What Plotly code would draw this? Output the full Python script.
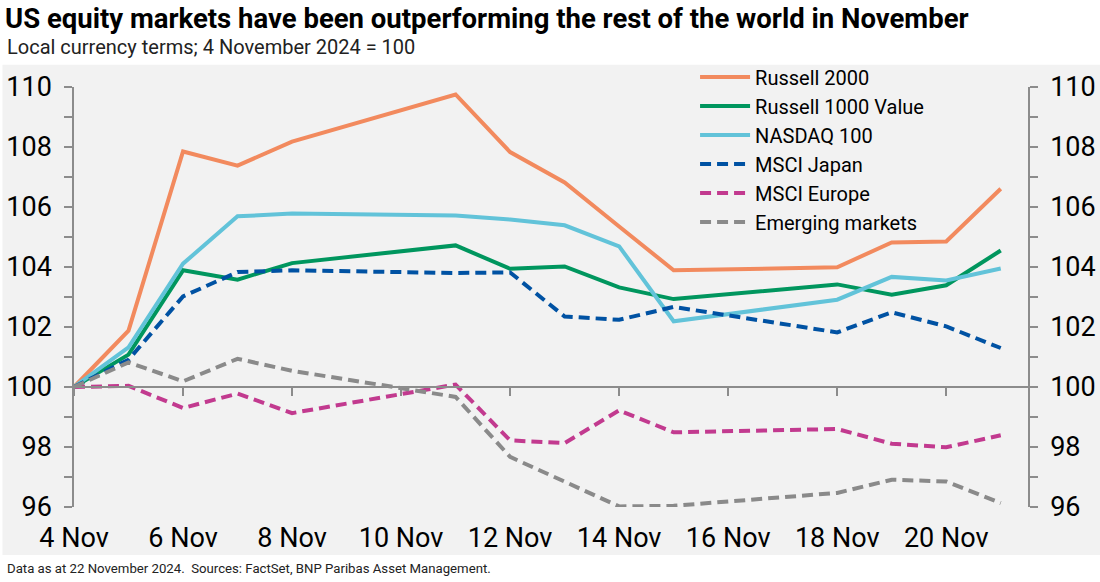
import plotly.graph_objects as go

dates = ["2024-11-04", "2024-11-05", "2024-11-06", "2024-11-07", "2024-11-08",
         "2024-11-11", "2024-11-12", "2024-11-13", "2024-11-14", "2024-11-15",
         "2024-11-18", "2024-11-19", "2024-11-20", "2024-11-21"]

russell_2000 = [100, 101.88, 107.85, 107.38, 108.18, 109.75, 107.83, 106.82, 105.35, 103.89,
                103.99, 104.82, 104.85, 106.61]
russell_1000_value = [100, 101.08, 103.89, 103.58, 104.13, 104.72, 103.94, 104.02, 103.32, 102.93,
                      103.42, 103.08, 103.39, 104.55]
nasdaq_100 = [100, 101.32, 104.11, 105.69, 105.78, 105.72, 105.58, 105.39, 104.69, 102.19,
              102.91, 103.67, 103.55, 103.95]
msci_japan = [100, 100.91, 103.02, 103.83, 103.89, 103.80, 103.82, 102.35, 102.24, 102.67,
              101.82, 102.49, 102.02, 101.30]
msci_europe = [100, 100.04, 99.30, 99.78, 99.13, 100.08, 98.22, 98.13, 99.22, 98.49,
               98.60, 98.11, 97.99, 98.39]
emerging_markets = [100, 100.82, 100.19, 100.94, 100.54, 99.67, 97.67, 96.85, 96.02, 96.04,
                    96.47, 96.91, 96.85, 96.13]

series = [
    ("Russell 2000", russell_2000, "#F28A5E", "solid"),
    ("Russell 1000 Value", russell_1000_value, "#00965E", "solid"),
    ("NASDAQ 100", nasdaq_100, "#62C3D9", "solid"),
    ("MSCI Japan", msci_japan, "#0052A3", "11px,6px"),
    ("MSCI Europe", msci_europe, "#C23A8F", "11px,6px"),
    ("Emerging markets", emerging_markets, "#8A8A8A", "11px,6px"),
]

FONT = "Roboto, sans-serif"
AXIS_GREY = "#8C8C8C"

fig = go.Figure()
for name, vals, color, dash in series:
    fig.add_trace(go.Scatter(x=dates, y=vals, name=name, mode="lines",
                             line=dict(color=color, width=4, dash=dash)))

# empty trace so the secondary axes (right y axis, x axis line at 100) are drawn
fig.add_trace(go.Scatter(x=[], y=[], xaxis="x2", yaxis="y2", showlegend=False,
                         hoverinfo="skip"))

tick_style = dict(ticks="outside", ticklen=8, tickcolor=AXIS_GREY, tickwidth=1.5)

fig.update_layout(
    width=1100, height=582,
    margin=dict(l=74, r=72, t=87, b=75, autoexpand=False),
    paper_bgcolor="white",
    plot_bgcolor="#F2F2F2",
    font=dict(family=FONT, color="black"),
    showlegend=True,
    legend=dict(x=0.651, y=1.07, xanchor="left", yanchor="top",
                bgcolor="rgba(0,0,0,0)", font=dict(size=20, family=FONT),
                itemwidth=50, tracegroupgap=0),
    title=dict(text="<b>US equity markets have been outperforming the rest of the world in November</b>",
               x=5/1100, xanchor="left", xref="container",
               y=1-18/582, yanchor="middle", yref="container",
               font=dict(size=27.5, family=FONT)),
    xaxis=dict(type="date", range=["2024-11-04", "2024-11-21 12:00"],
               tick0="2024-11-04", dtick=2*86400000, tickformat="%-d %b",
               showgrid=False, zeroline=False, showline=False, ticks="",
               tickfont=dict(size=27, family=FONT), ticklabelstandoff=12),
    xaxis2=dict(type="date", overlaying="x", matches="x", anchor="free", position=4/14,
                tick0="2024-11-04", dtick=2*86400000, showticklabels=False,
                showgrid=False, zeroline=False, showline=True, linecolor=AXIS_GREY, linewidth=1.5,
                **tick_style),
    yaxis=dict(range=[96, 110], dtick=2, showgrid=False, zeroline=False,
               showline=True, linecolor=AXIS_GREY, linewidth=1.5, **tick_style,
               minor=dict(dtick=1, **tick_style),
               tickfont=dict(size=27, family=FONT), ticklabelstandoff=7),
    yaxis2=dict(range=[96, 110], matches="y", overlaying="y", side="right", anchor="x",
                dtick=2, showgrid=False, zeroline=False,
                showline=True, linecolor=AXIS_GREY, linewidth=1.5, **tick_style,
                minor=dict(dtick=1, **tick_style),
                tickfont=dict(size=27, family=FONT), ticklabelstandoff=7),
)

# grey panel behind the chart area
fig.add_shape(type="rect", xref="paper", yref="paper",
              x0=-0.075, x1=1.08, y0=-0.114, y1=1.053,
              fillcolor="#F2F2F2", line=dict(width=0), layer="below")

fig.add_annotation(text="Local currency terms; 4 November 2024 = 100",
                   xref="paper", yref="paper", x=-0.0725, y=1.095,
                   xanchor="left", yanchor="middle", showarrow=False,
                   font=dict(size=20, family=FONT, color="#222"))
fig.add_annotation(text="Data as at 22 November 2024.  Sources: FactSet, BNP Paribas Asset Management.",
                   xref="paper", yref="paper", x=-0.0725, y=-0.147,
                   xanchor="left", yanchor="middle", showarrow=False,
                   font=dict(size=13.2, family=FONT, color="#222"))

fig.write_html("out.html",
               config={"displayModeBar": False},
               post_script="document.body.style.margin='0';document.body.style.overflow='hidden';")
